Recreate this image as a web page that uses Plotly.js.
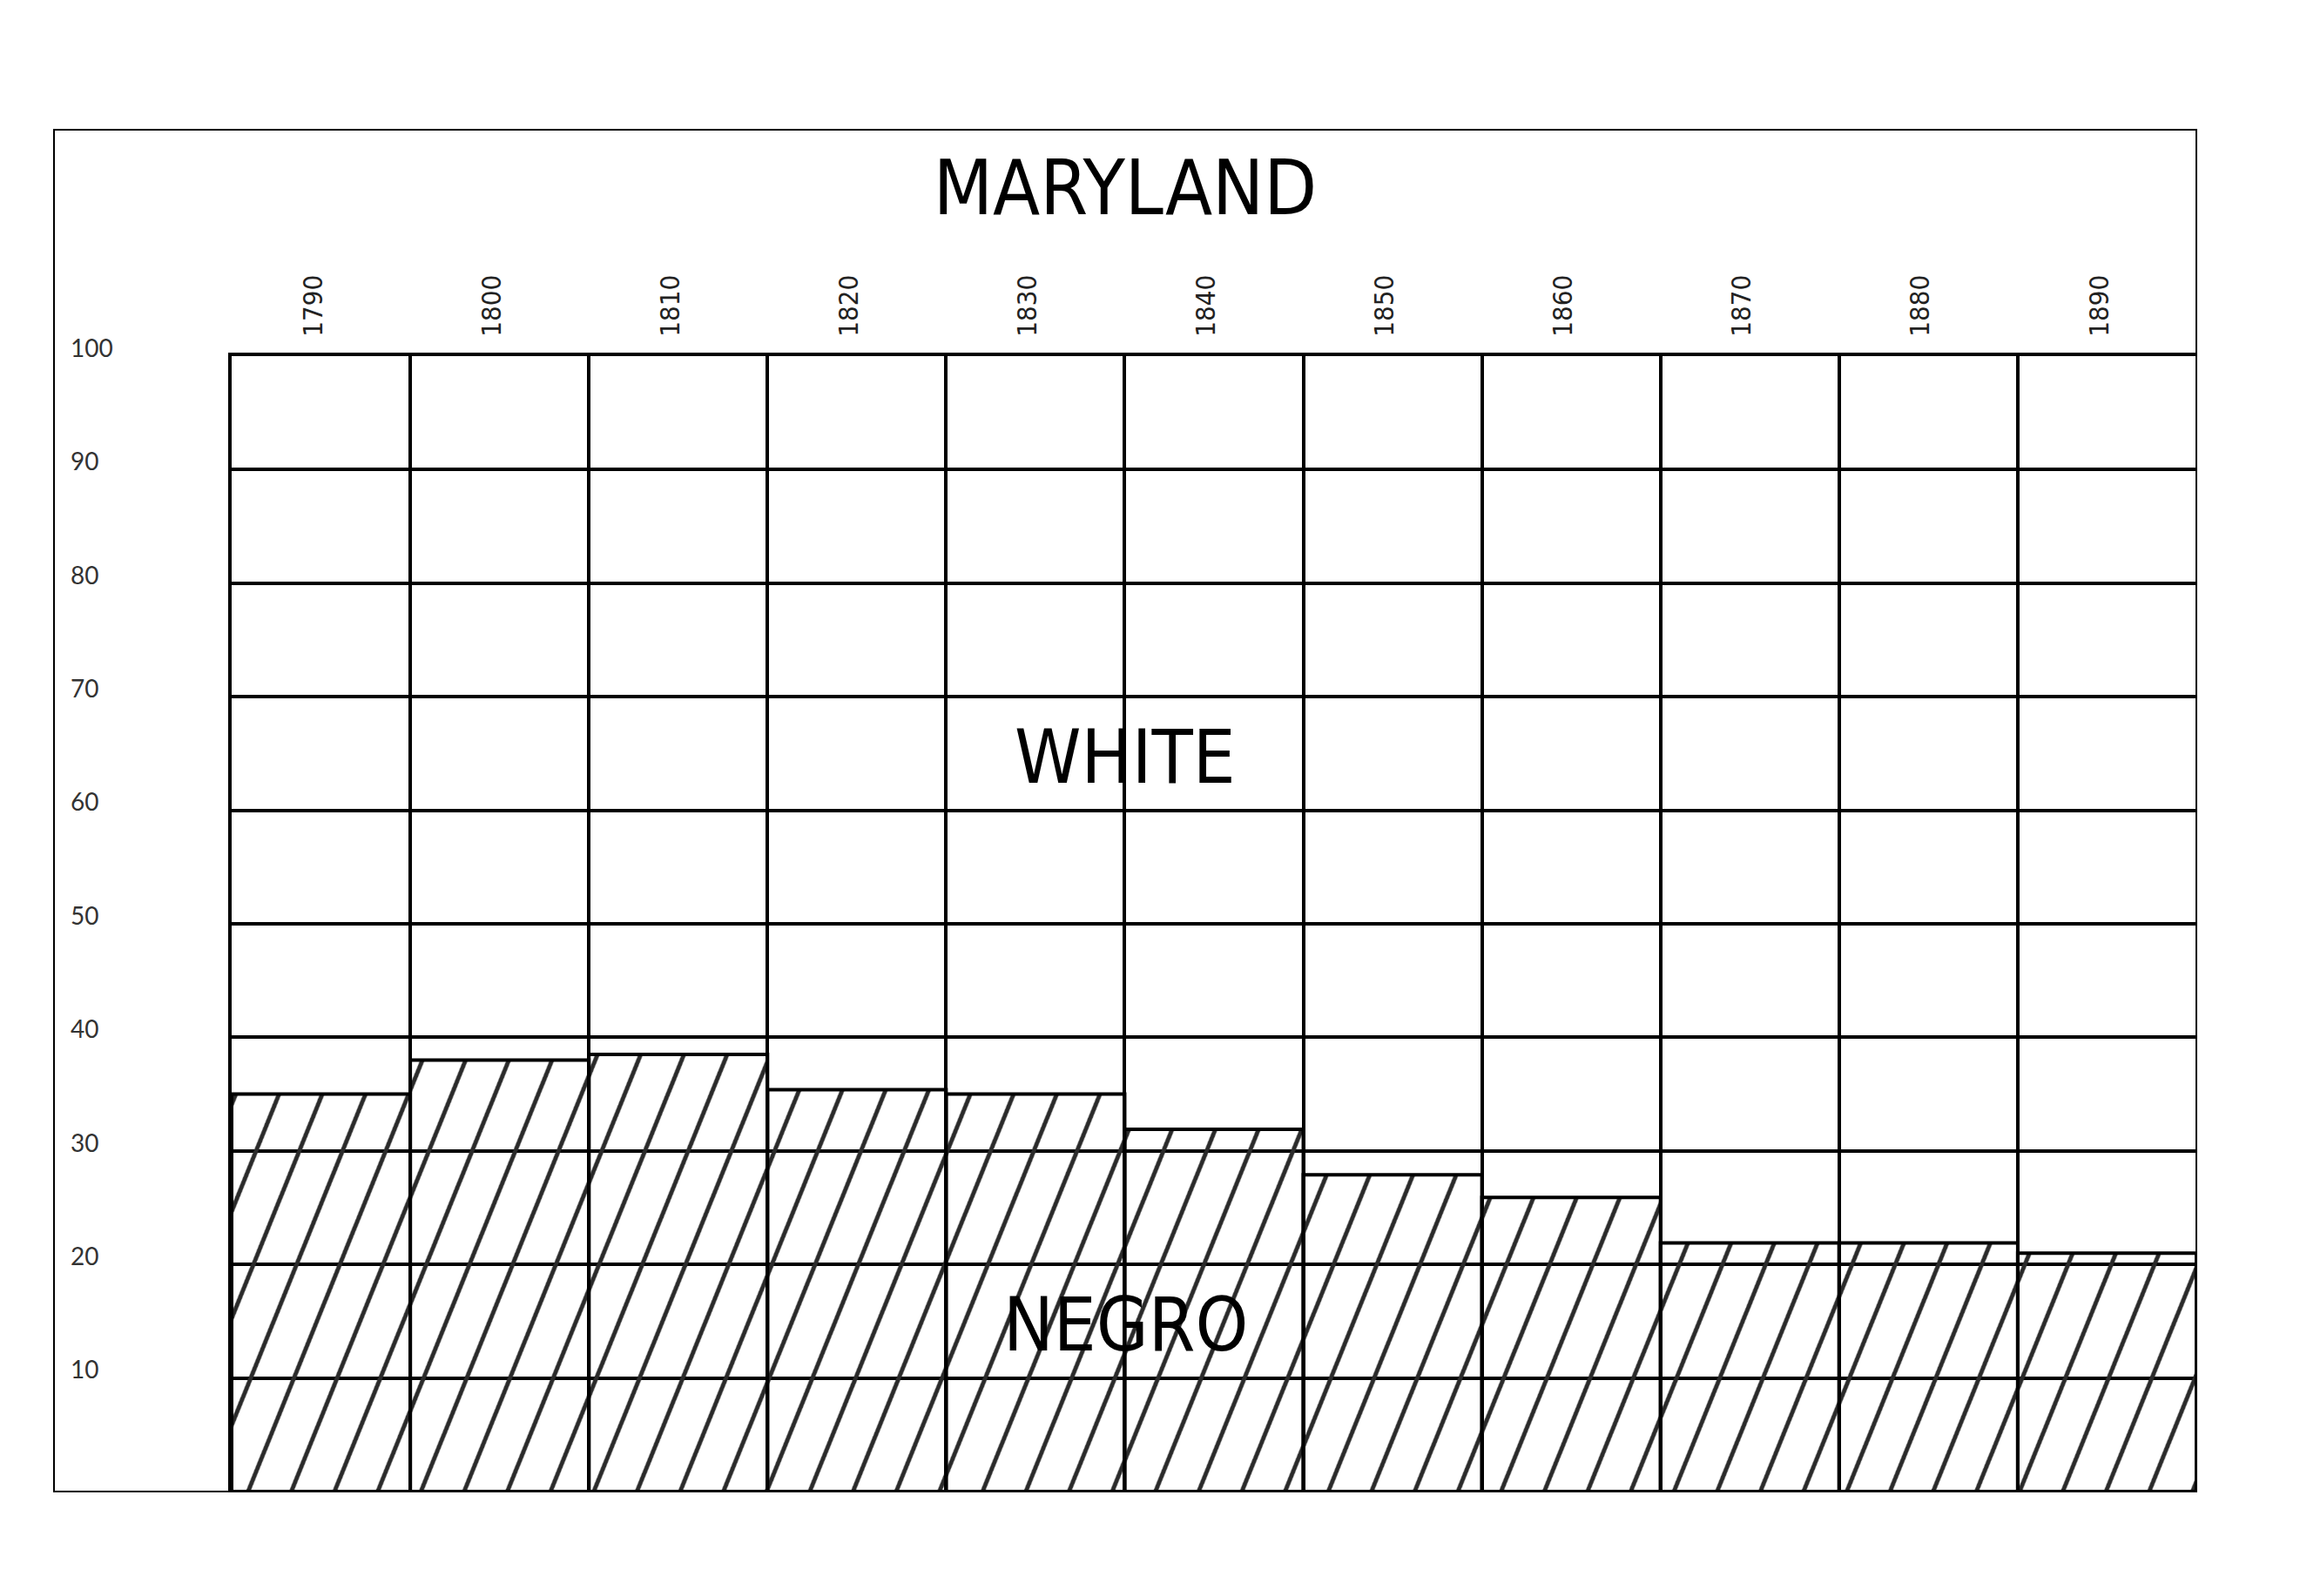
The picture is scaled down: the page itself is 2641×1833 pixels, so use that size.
<!DOCTYPE html>
<html>
<head>
<meta charset="utf-8">
<script src="https://cdn.plot.ly/plotly-3.0.1.min.js"></script>
<style>
  html, body { margin: 0; padding: 0; background: #fff; }
  #chart { width: 2641px; height: 1833px; }
</style>
</head>
<body>
<div id="chart"></div>
<script>
// ---- data ----
const years = ['1790', '1800', '1810', '1820', '1830', '1840', '1850', '1860', '1870', '1880', '1890'];
const negroPct = [35.0, 38.0, 38.5, 35.4, 35.0, 31.9, 27.9, 25.9, 21.9, 21.9, 21.0];
const yTickVals = [10, 20, 30, 40, 50, 60, 70, 80, 90, 100];
const yTickText = ['10', '20', '30', '40', '50', '60', '70', '80', '90', '100'];
const titleText = 'MARYLAND';
const whiteLabel = 'WHITE';
const negroLabel = 'NEGRO';

const W = 2641, H = 1833;
const mL = 62, mR = 119, mT = 409, mB = 120;
const plotW = W - mL - mR, plotH = H - mT - mB;
const frameTopPx = 149;
const bigFont = 'DejaVu Sans Condensed, Lato, sans-serif';

const data = [
  {
    type: 'bar',
    name: negroLabel,
    x: years,
    y: negroPct,
    marker: {
      color: 'rgba(0,0,0,0)',
      line: { color: '#000', width: 4 },
      pattern: { shape: '/', fgcolor: '#2a2a2a', bgcolor: 'rgba(0,0,0,0)', size: 46, solidity: 0.1, fgopacity: 1 }
    },
    hoverinfo: 'skip',
    showlegend: false
  },
  {
    type: 'scatter',
    x: years,
    y: negroPct,
    yaxis: 'y2',
    mode: 'none',
    hoverinfo: 'skip',
    showlegend: false
  }
];

const layout = {
  width: W, height: H,
  margin: { l: mL, r: mR, t: mT, b: mB, pad: 0 },
  paper_bgcolor: '#fff',
  plot_bgcolor: '#fff',
  bargap: 0,
  showlegend: false,
  hovermode: false,
  title: {
    text: titleText,
    font: { family: bigFont, size: 88, color: '#000' },
    xref: 'paper', x: 0.5, xanchor: 'center',
    yref: 'container', y: 1 - 215 / H, yanchor: 'middle'
  },
  xaxis: {
    type: 'category',
    domain: [(266 - mL) / plotW, 1],
    side: 'top',
    tickson: 'boundaries',
    showgrid: true, gridcolor: '#000', gridwidth: 4,
    ticks: '',
    tickangle: -90,
    tickfont: { family: 'DejaVu Sans Condensed, DejaVu Sans', size: 31, color: '#222' },
    ticklabelstandoff: 12,
    ticklabelshift: -9,
    showline: true, linecolor: '#000', linewidth: 4, mirror: false,
    zeroline: false,
    fixedrange: true
  },
  yaxis: {
    range: [0, 100],
    tickvals: yTickVals,
    showticklabels: false,
    showgrid: true, gridcolor: '#000', gridwidth: 4,
    zeroline: false,
    showline: true, linecolor: '#000', linewidth: 4,
    ticks: '',
    fixedrange: true
  },
  yaxis2: {
    overlaying: 'y',
    side: 'right',
    anchor: 'free',
    position: (80 - mL) / plotW,
    range: [0, 100],
    tickvals: yTickVals,
    ticktext: yTickText,
    tickfont: { family: 'Lato', size: 28, color: '#333' },
    ticklabelshift: -9,
    showgrid: false, zeroline: false, showline: false,
    ticks: '',
    fixedrange: true
  },
  shapes: [
    {
      type: 'rect', xref: 'paper', yref: 'paper',
      x0: 0, x1: 1, y0: 0, y1: (H - mB - frameTopPx) / plotH,
      line: { color: '#000', width: 2 },
      fillcolor: 'rgba(0,0,0,0)',
      layer: 'above'
    }
  ],
  annotations: [
    {
      text: whiteLabel, xref: 'paper', x: 0.5, yref: 'y', y: 64.7,
      xanchor: 'center', yanchor: 'middle', showarrow: false,
      font: { family: bigFont, size: 86, color: '#000' }
    },
    {
      text: negroLabel, xref: 'paper', x: 0.5, yref: 'y', y: 14.7,
      xanchor: 'center', yanchor: 'middle', showarrow: false,
      font: { family: bigFont, size: 86, color: '#000' }
    }
  ]
};

const gd = document.getElementById('chart');
Plotly.newPlot(gd, data, layout, { staticPlot: true, displayModeBar: false }).then(function () {
  gd.querySelectorAll('pattern').forEach(function (p) {
    p.setAttribute('patternTransform', 'rotate(-23)');
    p.querySelectorAll('path').forEach(function (pa) {
      pa.setAttribute('stroke-width', '5');
      pa.style.strokeWidth = '5px';
    });
  });
});
</script>
</body>
</html>
